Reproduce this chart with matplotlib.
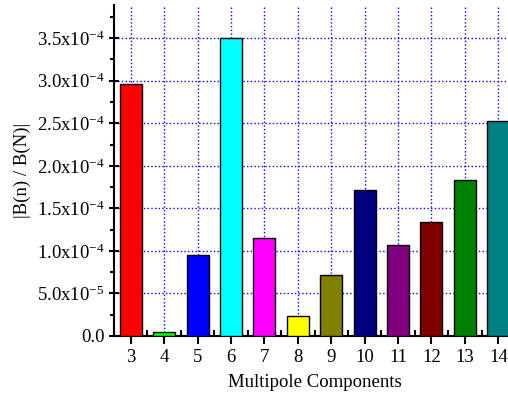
import matplotlib
matplotlib.use("Agg")
import matplotlib.pyplot as plt
from matplotlib.ticker import MultipleLocator, FuncFormatter

# multipole order n and |B(n)/B(N)|
orders = [3, 4, 5, 6, 7, 8, 9, 10, 11, 12, 13, 14]
ratios = [2.96e-4, 4.3e-6, 9.5e-5, 3.5e-4, 1.154e-4, 2.38e-5,
          7.16e-5, 1.71e-4, 1.068e-4, 1.34e-4, 1.835e-4, 2.53e-4]
colors = ["#ff0000", "#00ff00", "#0000ff", "#00ffff", "#ff00ff", "#ffff00",
          "#808000", "#000080", "#800080", "#800000", "#008000", "#008080"]

plt.rcParams["font.family"] = "Liberation Serif"
plt.rcParams["mathtext.fontset"] = "custom"
plt.rcParams["mathtext.rm"] = "Liberation Serif"
plt.rcParams["mathtext.it"] = "Liberation Serif:italic"


def sci_fmt(v, pos):
	if abs(v) < 1e-12:
		return "0.0"
	exp = 0
	m = v
	while abs(m) < 1:
		m *= 10
		exp -= 1
	return "%.1fx10$^{%d}$" % (m, exp)


fig = plt.figure(figsize=(5.08, 3.94), dpi=100)
ax = fig.add_axes([114 / 508, 58 / 394, 401 / 508, 331 / 394])

ax.bar(orders, ratios, width=0.66, color=colors, edgecolor="black", linewidth=1, zorder=3)

ax.set_xlim(2.5, 14.5)
ax.set_ylim(0, 3.89e-4)
ax.xaxis.set_major_locator(MultipleLocator(1))
ax.xaxis.set_minor_locator(MultipleLocator(0.5))
ax.yaxis.set_major_locator(MultipleLocator(5e-5))
ax.yaxis.set_minor_locator(MultipleLocator(2.5e-5))
ax.yaxis.set_major_formatter(FuncFormatter(sci_fmt))

ax.grid(True, which="major", color="blue", linestyle=":", linewidth=1, zorder=0)
for s in ["top", "right"]:
	ax.spines[s].set_visible(False)
for s in ["left", "bottom"]:
	ax.spines[s].set_linewidth(1.5)

ax.tick_params(axis="x", which="major", direction="out", length=6, width=1.5, labelsize=13.5, pad=3)
ax.tick_params(axis="x", which="minor", direction="in", length=4, width=1.5)
ax.tick_params(axis="y", which="major", direction="inout", length=7, width=1.5, labelsize=13.5)
ax.tick_params(axis="y", which="minor", direction="out", length=3, width=1.5)

ax.set_xlabel("Multipole Components", fontsize=13.5, labelpad=6)
ax.set_ylabel("|B(n) / B(N)|", fontsize=13.5, labelpad=4)

fig.savefig("out.png", dpi=100)
